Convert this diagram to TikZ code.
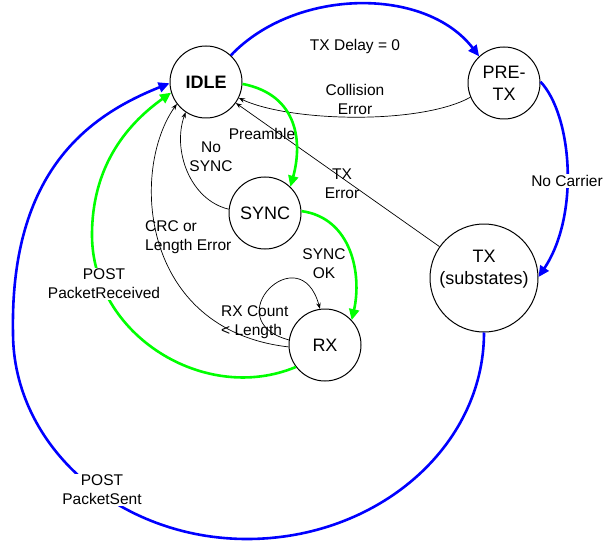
\documentclass[tikz,border=0pt]{standalone}
\usepackage{fontspec}
\setmainfont{Liberation Sans}
\usetikzlibrary{arrows.meta}
\definecolor{grn}{RGB}{0,255,0}
\begin{document}
\begin{tikzpicture}[x=1pt,y=-1pt,
  st/.style={circle,draw,line width=1pt,inner sep=0pt,minimum size=72pt,font=\fontsize{18}{22}\selectfont,align=center},
  bigst/.style={st,minimum size=108pt},
  lbl/.style={font=\fontsize{15.5}{19}\selectfont,align=center,inner sep=1pt},
  thinarr/.style={draw=black,line width=0.7pt,-{Stealth[length=6pt,width=4.5pt]}},
  bluearr/.style={draw=blue,line width=2.6pt,-{Triangle[length=11pt,width=10pt]}},
  greenarr/.style={draw=grn,line width=2.6pt,-{Triangle[length=11pt,width=10pt]}}
]
\useasboundingbox (0,0) rectangle (604,540);

% states
\node[st,font=\fontsize{18}{22}\selectfont\bfseries] (idle) at (206,82) {IDLE};
\node[st] (pretx) at (504,83) {PRE-\\TX};
\node[st] (sync) at (265,213) {SYNC};
\node[st] (rx) at (325,345) {RX};
\node[bigst] (tx) at (484,278) {TX\\(substates)\\\mbox{}};

% IDLE -> PRE-TX
\draw[bluearr] (idle.47) .. controls (295,-12) and (425,-14) .. (pretx.133);
\node[lbl] (l1) at (355,46) {TX Delay = 0};

% PRE-TX -> IDLE (collision)
\draw[thinarr] (pretx.203) .. controls (420,125) and (290,122) .. (idle.-26);
\node[lbl] (l2) at (355,99) {Collision\\Error};

% PRE-TX -> TX
\draw[bluearr] (pretx.2) .. controls (572,115) and (580,215) .. (tx.1);
\node[lbl,fill=white] (l3) at (567,181) {No Carrier};

% TX -> IDLE (error)
\draw[thinarr] (tx) -- (idle);
\node[lbl] (l4) at (342,184) {TX\\Error};

% TX -> IDLE (packet sent)
\draw[bluearr] (tx.270) .. controls (484,447) and (377,539) .. (247,539)
  .. controls (118,539) and (13,446) .. (13,333)
  .. controls (10,170) and (90,115) .. (idle.182);
\node[lbl,fill=white] (l5) at (102,490) {POST\\PacketSent};

% IDLE -> SYNC
\draw[greenarr] (idle.-3) .. controls (300,95) and (302,145) .. (sync.46);
\node[lbl] (l6) at (262,134) {Preamble};

% SYNC -> IDLE
\draw[thinarr] (sync.174) .. controls (190,200) and (172,150) .. (idle.-124);
\node[lbl] (l7) at (211,157) {No\\SYNC};

% SYNC -> RX
\draw[greenarr] (sync.3) .. controls (352,218) and (362,275) .. (rx.43);
\node[lbl] (l8) at (324,264) {SYNC\\OK};

% RX self loop
\draw[thinarr] (rx.172) .. controls (215,320) and (300,235) .. (rx.98);
\node[lbl,align=left,anchor=west] (l9) at (220,322) {RX Count\\< Length};

% RX -> IDLE (CRC)
\draw[thinarr] (rx.183) .. controls (140,330) and (130,170) .. (idle.-143);
\node[lbl,align=left,anchor=west] (l10) at (144,237) {CRC or\\Length Error};

% RX -> IDLE (packet received)
\draw[greenarr] (rx.-143) .. controls (205,405) and (92,335) .. (92,235)
  .. controls (92,170) and (123,127) .. (idle.197);
\node[lbl,fill=white] (l11) at (104,284) {POST\\PacketReceived};
\end{tikzpicture}
\end{document}
